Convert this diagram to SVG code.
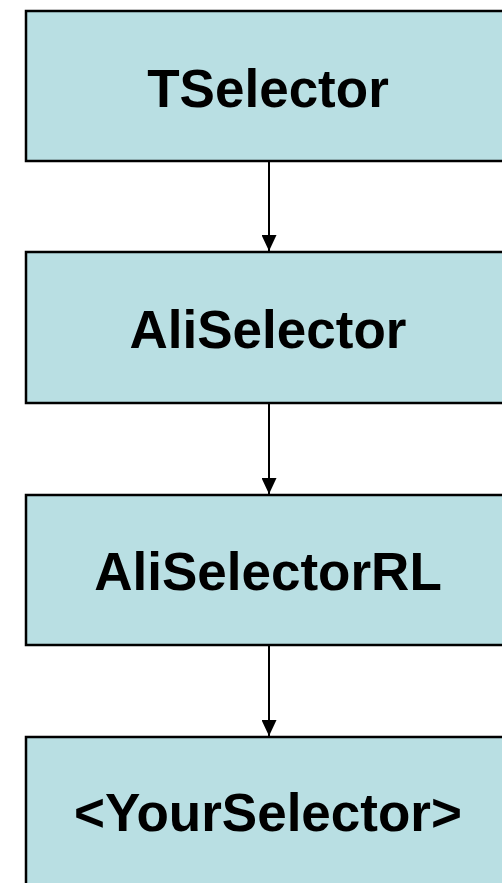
<svg xmlns="http://www.w3.org/2000/svg" width="502" height="883" viewBox="0 0 502 883">
<style>
.box{fill:#B9DFE3;stroke:#000;stroke-width:2.5}
.lbl{font-family:"Liberation Sans",Arial,sans-serif;font-weight:bold;font-size:53px;fill:#000;text-anchor:middle}
.conn{stroke:#000;stroke-width:2;fill:none}
</style>
<defs>
<marker id="arr" viewBox="0 0 16 15" refX="16" refY="7.5" markerWidth="16" markerHeight="15" markerUnits="userSpaceOnUse" orient="auto">
<path d="M0,0 L16,7.5 L0,15 Z" fill="#000"/>
</marker>
</defs>
<rect width="502" height="883" fill="#fff"/>
<g id="n1"><rect class="box" x="26" y="11" width="600" height="150"/><text class="lbl" x="268" y="107">TSelector</text></g>
<g id="n2"><rect class="box" x="26" y="252" width="600" height="151"/><text class="lbl" x="268" y="348">AliSelector</text></g>
<g id="n3"><rect class="box" x="26" y="495" width="600" height="150"/><text class="lbl" x="268" y="590">AliSelectorRL</text></g>
<g id="n4"><rect class="box" x="26" y="737" width="600" height="200"/><text class="lbl" x="268" y="831">&lt;YourSelector&gt;</text></g>
<g id="connectors">
<line class="conn" x1="269" y1="162" x2="269" y2="251" marker-end="url(#arr)"/>
<line class="conn" x1="269" y1="404" x2="269" y2="494" marker-end="url(#arr)"/>
<line class="conn" x1="269" y1="646" x2="269" y2="736" marker-end="url(#arr)"/>
</g>
</svg>
